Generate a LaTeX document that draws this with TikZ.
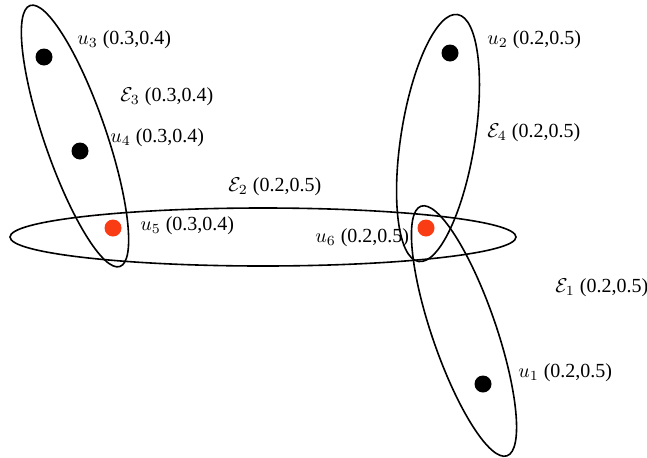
\documentclass[tikz,border=0pt]{standalone}
\usepackage{fontspec}
\setmainfont{Liberation Serif}
\definecolor{dotred}{RGB}{250,60,20}
\tikzset{
  hedge/.style={draw=black, line width=0.8pt},
  vdot/.style={circle, fill=black, inner sep=0pt, minimum size=8.5pt},
  rdot/.style={circle, fill=dotred, inner sep=0pt, minimum size=8.5pt},
  lbl/.style={anchor=west, inner sep=0pt, font=\fontsize{10}{12}\selectfont}
}
\begin{document}
\begin{tikzpicture}[x=0.5pt,y=0.5pt]
\useasboundingbox (0,0) rectangle (647,457);
% hyperedges
\draw[hedge, rotate around={109:(75,321)}] (75,321) ellipse (69pt and 15.5pt);
\draw[hedge, rotate around={81:(438,319)}] (438,319) ellipse (62.5pt and 18.5pt);
\draw[hedge] (263,220) ellipse (126.5pt and 14.5pt);
\draw[hedge, rotate around={109:(464,126)}] (464,126) ellipse (66pt and 16pt);
% vertices
\node[vdot] (u3) at (44,400) {};
\node[vdot] (u4) at (80,306) {};
\node[rdot] (u5) at (113,229) {};
\node[vdot] (u2) at (450,404) {};
\node[rdot] (u6) at (426,229) {};
\node[vdot] (u1) at (483,73) {};
% labels
\node[lbl] (l3) at (77,417) {$u_3$ (0.3,0.4)};
\node[lbl] (le3) at (120,360) {$\mathcal{E}_3$ (0.3,0.4)};
\node[lbl] (l4) at (110,319) {$u_4$ (0.3,0.4)};
\node[lbl] (l5) at (140,231) {$u_5$ (0.3,0.4)};
\node[lbl] (le2) at (228,270) {$\mathcal{E}_2$ (0.2,0.5)};
\node[lbl] (l6) at (315,219) {$u_6$ (0.2,0.5)};
\node[lbl] (l2) at (487,417) {$u_2$ (0.2,0.5)};
\node[lbl] (le4) at (487,324) {$\mathcal{E}_4$ (0.2,0.5)};
\node[lbl] (le1) at (555,169) {$\mathcal{E}_1$ (0.2,0.5)};
\node[lbl] (l1) at (518,84) {$u_1$ (0.2,0.5)};
\end{tikzpicture}
\end{document}
